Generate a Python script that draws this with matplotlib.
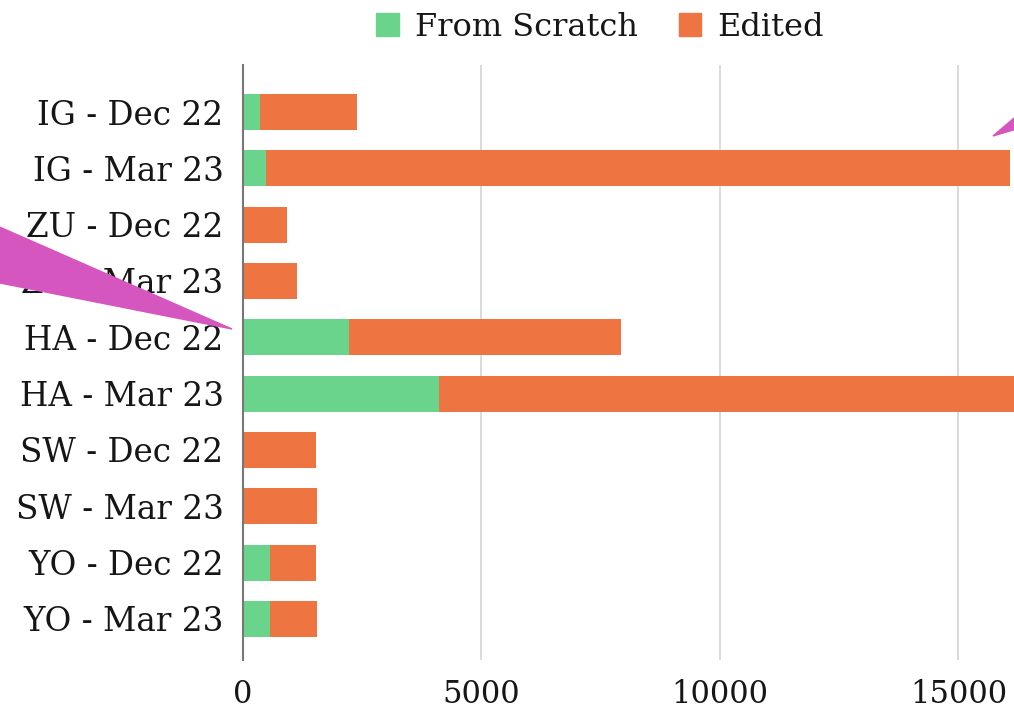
import matplotlib
matplotlib.use("Agg")
from matplotlib import pyplot as plt
from matplotlib.patches import Patch, Polygon

labels = ["IG - Dec 22", "IG - Mar 23", "ZU - Dec 22", "ZU - Mar 23", "HA - Dec 22",
          "HA - Mar 23", "SW - Dec 22", "SW - Mar 23", "YO - Dec 22", "YO - Mar 23"]
from_scratch = [350, 480, 0, 0, 2230, 4100, 0, 0, 560, 560]
edited = [2050, 15600, 920, 1125, 5690, 13900, 1520, 1560, 960, 1000]
x_ticks = [0, 5000, 10000, 15000]

green = "#6ad38c"
orange = "#ee7442"
pink = "#d656c0"
text_col = "#161616"
W, H = 1014, 712

plt.rcParams["font.family"] = ["DejaVu Serif"]
fig = plt.figure(figsize=(W / 100, H / 100), dpi=100)
ax = fig.add_axes([243 / W, 1 - 660 / H, (W - 243) / W, (660 - 65) / H])

pos = list(range(len(labels)))
ax.barh(pos, from_scratch, height=0.64, color=green, zorder=3)
ax.barh(pos, edited, left=from_scratch, height=0.64, color=orange, zorder=3)

ax.set_xlim(0, 16164)
ax.set_ylim(9.73, -0.835)
ax.set_yticks(pos)
ax.set_yticklabels(labels, fontsize=23.5, color=text_col)
ax.set_xticks(x_ticks)
ax.set_xticklabels([str(t) for t in x_ticks], fontsize=22, color=text_col)
ax.tick_params(axis="y", length=0, pad=14)
ax.tick_params(axis="x", length=0, pad=14)
ax.grid(axis="x", color="#d4d4d4", linewidth=1.2, zorder=0)
for s in ["top", "right", "bottom"]:
    ax.spines[s].set_visible(False)
ax.spines["left"].set_color("#777777")
ax.spines["left"].set_linewidth(1.5)
ax.spines["left"].set_zorder(4)

handles = [Patch(color=green, label="From Scratch"), Patch(color=orange, label="Edited")]
fig.legend(handles=handles, loc="center", bbox_to_anchor=(600 / W, 1 - 27 / H), ncol=2,
           frameon=False, fontsize=23, handlelength=0.7, handleheight=0.7,
           handletextpad=0.5, columnspacing=1.3, labelcolor=text_col)

# pink callout wedges sitting on top of the chart
def px(pts):
    return [(x / W, 1 - y / H) for x, y in pts]

fig.patches.append(Polygon(px([(-5, 225), (232, 329), (-5, 282)]), closed=True,
                           transform=fig.transFigure, color=pink, zorder=10))
fig.patches.append(Polygon(px([(993, 136), (1020, 113), (1020, 128)]), closed=True,
                           transform=fig.transFigure, color=pink, zorder=10))

fig.savefig("out.png", dpi=100, facecolor="white")
